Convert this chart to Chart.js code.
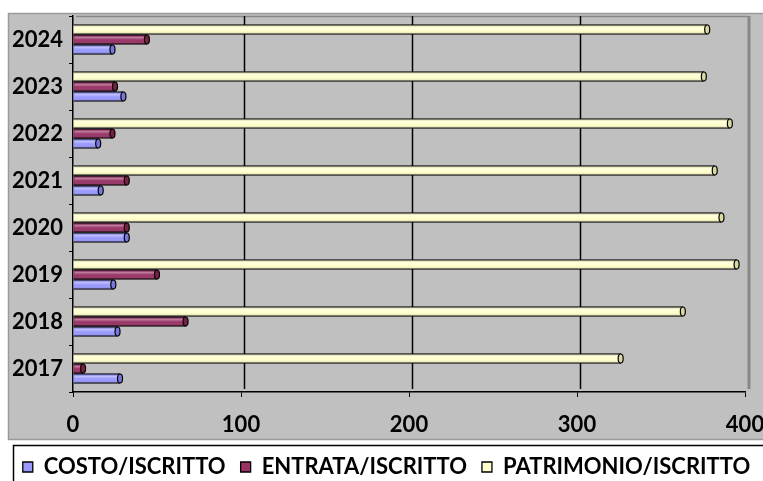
<!DOCTYPE html>
<html><head><meta charset="utf-8">
<script src="https://cdn.jsdelivr.net/npm/chart.js@4/dist/chart.umd.min.js"></script>
<style>html,body{margin:0;padding:0;background:#fff;overflow:hidden}#wrap{width:763px;height:481px;position:relative}</style>
</head><body><div id="wrap"><canvas id="c" width="763" height="481"></canvas></div>
<script>
const years = ['2017','2018','2019','2020','2021','2022','2023','2024'];
const costo = [28, 26.5, 24, 32, 16.5, 15, 30, 23.5];
const entrata = [6, 67, 50, 32, 32, 23.5, 25, 44];
const patrimonio = [326, 363, 395, 386, 382, 391, 375.5, 377.5];
const xTicks = [0, 100, 200, 300, 400];
const seriesNames = ['COSTO/ISCRITTO', 'ENTRATA/ISCRITTO', 'PATRIMONIO/ISCRITTO'];
const seriesColors = ['#9999FF', '#993366', '#FFFFCC'];
const capColors = ['#7777DD', '#772244', '#D8D8A0'];

const FONT = 'Lato, "Liberation Sans", Arial, sans-serif';

const bgPlugin = {
  id: 'bg',
  afterLayout(chart) {
    const lg = chart.legend;
    if (lg) { lg.left += 5; lg.right += 5; }
  },
  beforeDraw(chart) {
    const ctx = chart.ctx;
    ctx.save();
    ctx.fillStyle = '#fff';
    ctx.fillRect(0, 0, chart.width, chart.height);
    ctx.fillStyle = '#C0C0C0';
    ctx.fillRect(8, 13, chart.width - 8, 427);
    ctx.strokeStyle = '#9A9A9A';
    ctx.lineWidth = 1.5;
    ctx.strokeRect(8.5, 13.5, chart.width, 426);
    ctx.fillStyle = '#fff';
    ctx.fillRect(13, 445, chart.width, 50);
    ctx.strokeStyle = '#000';
    ctx.lineWidth = 1.5;
    ctx.strokeRect(13.5, 445.5, chart.width, 50);
    ctx.restore();
  },
  beforeDatasetsDraw(chart) {
    const ctx = chart.ctx;
    const a = chart.chartArea;
    const xs = chart.scales.x;
    const d = 3;
    ctx.save();
    ctx.strokeStyle = '#888';
    ctx.lineWidth = 1.5;
    ctx.beginPath();
    ctx.moveTo(a.left + d, a.top + 0.5);
    ctx.lineTo(xs.getPixelForValue(xTicks[xTicks.length - 1]) + d, a.top + 0.5);
    ctx.stroke();
    ctx.lineWidth = 3;
    ctx.beginPath();
    const rx = xs.getPixelForValue(xTicks[xTicks.length - 1]) + d + 1;
    ctx.moveTo(rx, a.top);
    ctx.lineTo(rx, a.bottom - d);
    ctx.stroke();
    ctx.strokeStyle = '#000';
    ctx.lineWidth = 1.5;
    xTicks.slice(1, -1).forEach(v => {
      const px = Math.round(xs.getPixelForValue(v) + d) + 0.5;
      ctx.beginPath();
      ctx.moveTo(px, a.top);
      ctx.lineTo(px, a.bottom - d);
      ctx.stroke();
    });
    ctx.restore();
  },
  afterDatasetsDraw(chart) {
    const ctx = chart.ctx;
    ctx.save();
    chart.data.datasets.forEach((ds, di) => {
      const meta = chart.getDatasetMeta(di);
      meta.data.forEach(bar => {
        const top = bar.y - bar.height / 2;
        const h = bar.height;
        const left = Math.min(bar.x, bar.base);
        const w = Math.abs(bar.x - bar.base);
        const g = ctx.createLinearGradient(0, top, 0, top + h);
        g.addColorStop(0, 'rgba(0,0,0,0.05)');
        g.addColorStop(0.3, 'rgba(255,255,255,0.35)');
        g.addColorStop(0.55, 'rgba(255,255,255,0)');
        g.addColorStop(1, 'rgba(0,0,0,0.22)');
        ctx.fillStyle = g;
        ctx.fillRect(left + 1, top + 1, w - 1, h - 2);
        ctx.beginPath();
        ctx.ellipse(bar.x, bar.y, 2.5, h / 2 - 0.5, 0, 0, Math.PI * 2);
        ctx.fillStyle = ds.capColor;
        ctx.fill();
        ctx.strokeStyle = '#000';
        ctx.lineWidth = 1.2;
        ctx.stroke();
      });
    });
    ctx.restore();
  }
};

const dsOrder = [
  { label: seriesNames[2], data: patrimonio, backgroundColor: seriesColors[2], capColor: capColors[2] },
  { label: seriesNames[1], data: entrata, backgroundColor: seriesColors[1], capColor: capColors[1] },
  { label: seriesNames[0], data: costo, backgroundColor: seriesColors[0], capColor: capColors[0] }
];

new Chart(document.getElementById('c'), {
  type: 'bar',
  data: {
    labels: years,
    datasets: dsOrder.map(d => Object.assign({
      borderColor: '#000',
      borderWidth: 1.3,
      barThickness: 10
    }, d))
  },
  options: {
    indexAxis: 'y',
    responsive: false,
    devicePixelRatio: 1,
    animation: false,
    layout: { padding: { left: 0, right: 0, top: 16, bottom: -7 } },
    plugins: {
      tooltip: { enabled: false },
      legend: {
        position: 'bottom',
        reverse: true,
        labels: {
          boxWidth: 10,
          boxHeight: 10,
          padding: 15,
          color: '#000',
          font: { family: FONT, size: 22, weight: 'bold' }
        }
      }
    },
    scales: {
      x: {
        type: 'linear',
        min: xTicks[0],
        max: xTicks[xTicks.length - 1],
        afterBuildTicks: s => { s.ticks = xTicks.map(v => ({ value: v })); },
        ticks: { color: '#000', padding: 15, font: { family: FONT, size: 22, weight: 'bold' } },
        grid: { drawOnChartArea: false, drawTicks: true, tickLength: 5, color: '#000' },
        border: { color: '#000', width: 1.5 },
        afterFit: s => { s.height = 49; s.paddingLeft = 0; s.paddingRight = 0; }
      },
      y: {
        type: 'category',
        reverse: true,
        ticks: { color: '#000', padding: 6, font: { family: FONT, size: 22, weight: 'bold' } },
        grid: { offset: true, drawOnChartArea: false, drawTicks: true, tickLength: 4, color: '#000' },
        border: { color: '#000', width: 1.5 },
        afterFit: s => { s.width = 73; s.paddingTop = 0; s.paddingBottom = 0; }
      },
      yRight: {
        type: 'linear',
        position: 'right',
        display: true,
        grid: { display: false },
        ticks: { display: false },
        border: { display: false },
        afterFit: s => { s.width = 18; }
      }
    }
  },
  plugins: [bgPlugin]
});
</script>
</body></html>
